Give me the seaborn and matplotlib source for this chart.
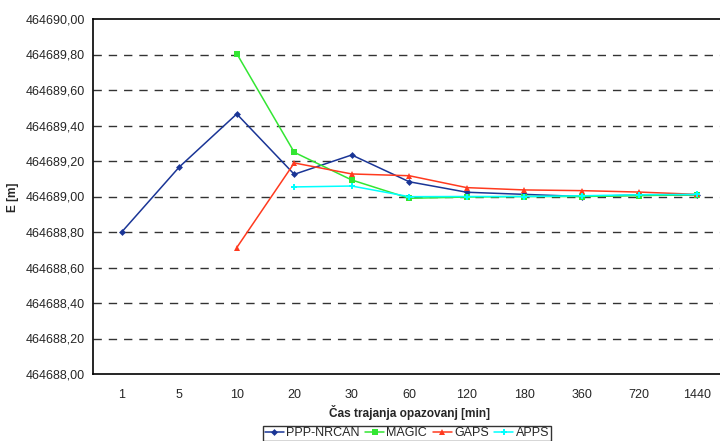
import matplotlib
matplotlib.use("Agg")
import matplotlib.pyplot as plt
from matplotlib.ticker import FixedLocator, FuncFormatter
import seaborn as sns
import pandas as pd
import numpy as np

categories = ["1", "5", "10", "20", "30", "60", "120", "180", "360", "720", "1440"]
ppp_nrcan = [464688.800, 464689.166, 464689.465, 464689.125, 464689.234, 464689.083,
             464689.024, 464689.012, 464689.000, 464689.008, 464689.010]
magic = [np.nan, np.nan, 464689.805, 464689.249, 464689.093, 464688.990,
         464688.997, 464689.000, 464689.000, 464689.005, 464689.010]
gaps = [np.nan, np.nan, 464688.712, 464689.189, 464689.127, 464689.117,
        464689.050, 464689.037, 464689.033, 464689.025, 464689.012]
apps = [np.nan, np.nan, np.nan, 464689.054, 464689.059, 464688.999,
        464689.000, 464689.000, 464689.004, 464689.010, 464689.012]

series_names = ["PPP-NRCAN", "MAGIC", "GAPS", "APPS"]
colors = ["#1a3596", "#33e633", "#ff3a1f", "#00ffff"]
markers = ["D", "s", "^", "P"]
msizes = [3.5, 4, 4.5, 4.5]

rows = []
for name, vals in zip(series_names, [ppp_nrcan, magic, gaps, apps]):
    for i, v in enumerate(vals):
        if not np.isnan(v):
            rows.append({"pos": i, "value": v, "series": name})
df = pd.DataFrame(rows)

sns.set_style("white")
plt.rcParams['font.family'] = ['Liberation Sans', 'DejaVu Sans']

fig = plt.figure(figsize=(7.2, 4.41), dpi=100)
ax = fig.add_axes([93/720, 1-374/441, (725.5-93)/720, (374-19)/441])

for name, c, m, ms in zip(series_names, colors, markers, msizes):
    sub = df[df["series"] == name]
    sns.lineplot(data=sub, x="pos", y="value", ax=ax, color=c, marker=m,
                 markersize=ms, markeredgewidth=0, linewidth=1.1, label=name,
                 estimator=None, sort=False)

ax.set_xlim(-0.5, len(categories) - 0.5)
ax.set_ylim(464688.0, 464690.0)
ax.set_yticks(np.arange(464688.0, 464690.01, 0.2))
ax.yaxis.set_major_formatter(FuncFormatter(lambda v, p: f"{v:.2f}".replace(".", ",")))
ax.set_xticks(range(len(categories)))
ax.set_xticklabels(categories)
ax.xaxis.set_minor_locator(FixedLocator(np.arange(-0.5, len(categories), 1.0)))
ax.tick_params(axis="x", which="major", length=0, pad=11, labelsize=9)
ax.tick_params(axis="x", which="minor", length=4, width=1, direction="out", color="black")
ax.tick_params(axis="y", which="major", length=4, width=1, direction="out", labelsize=9, pad=2)

for v in np.arange(464688.2, 464689.81, 0.2):
    ax.axhline(v, color="#333333", linestyle=(0, (6, 5)), linewidth=1.0, zorder=0)

for s in ["left", "bottom", "top"]:
    ax.spines[s].set_visible(True)
    ax.spines[s].set_color("black")
    ax.spines[s].set_linewidth(1.2)
ax.spines["right"].set_visible(False)

ax.set_xlabel("Čas trajanja opazovanj [min]", fontsize=8.6, fontweight="bold", labelpad=3)
ax.set_ylabel("E [m]", fontsize=8.6, fontweight="bold")
ax.yaxis.set_label_coords((19 - 93) / 632.5, (374 - 197) / 355)

leg = ax.legend(loc="center", bbox_to_anchor=(407/720, 1-433.5/441), bbox_transform=fig.transFigure,
                ncol=4, frameon=True, fontsize=9, handlelength=1.5, handletextpad=0.2,
                columnspacing=0.45, borderpad=0.15, borderaxespad=0, fancybox=False)
leg.get_frame().set_edgecolor("black")
leg.get_frame().set_linewidth(1.0)

fig.savefig("out.png", dpi=100)
